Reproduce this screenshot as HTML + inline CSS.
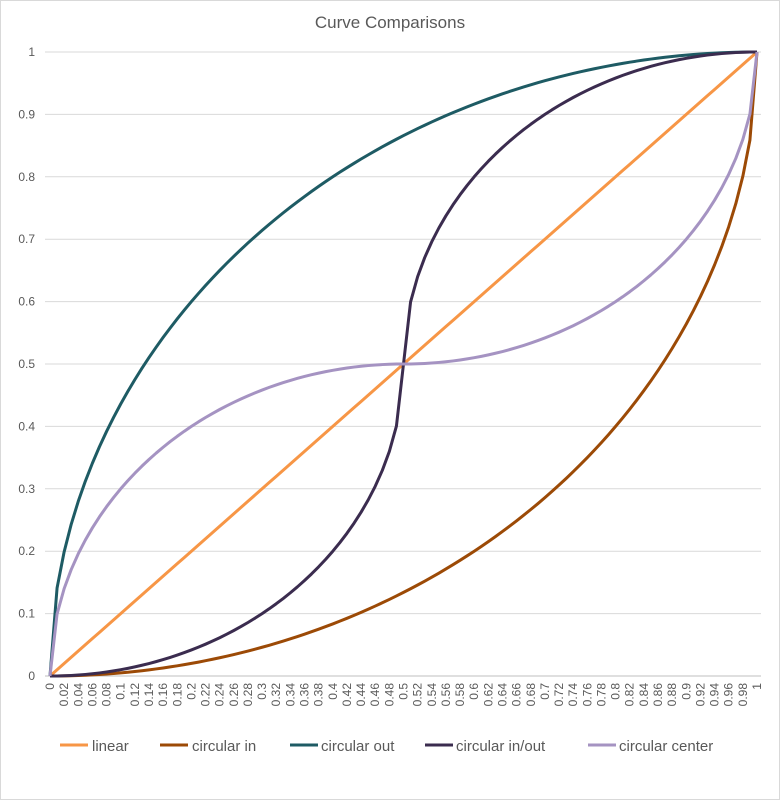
<!DOCTYPE html>
<html><head><meta charset="utf-8"><style>
body{margin:0;background:#fff}
svg{display:block;font-family:"Liberation Sans",sans-serif}
</style></head><body>
<svg id="c" width="780" height="800" xmlns="http://www.w3.org/2000/svg">
<rect x="0.5" y="0.5" width="779" height="799" fill="#fff" stroke="#d9d9d9"/>
<text x="390" y="28" text-anchor="middle" font-size="17" fill="#595959">Curve Comparisons</text>
<g id="grid"></g><g id="lab" font-size="12" fill="#595959"></g><g id="ser" fill="none" stroke-width="3" stroke-linejoin="round"></g>
<g font-size="15" fill="#595959">
<line x1="60" y1="745" x2="88" y2="745" stroke="#F79646" stroke-width="3"/><text x="92" y="751">linear</text>
<line x1="160" y1="745" x2="188" y2="745" stroke="#9C4A06" stroke-width="3"/><text x="192" y="751">circular in</text>
<line x1="290" y1="745" x2="318" y2="745" stroke="#1E5B64" stroke-width="3"/><text x="321" y="751">circular out</text>
<line x1="425" y1="745" x2="453" y2="745" stroke="#3B2C4F" stroke-width="3"/><text x="456" y="751">circular in/out</text>
<line x1="588" y1="745" x2="616" y2="745" stroke="#A593C2" stroke-width="3"/><text x="619" y="751">circular center</text>
</g>
</svg>
<script>
var X0=50,X1=757,Y0=676,Y1=52,ns="http://www.w3.org/2000/svg";
function px(x){return X0+(X1-X0)*x}function py(y){return Y0-(Y0-Y1)*y}
function el(p,t,a,txt){var e=document.createElementNS(ns,t);for(var k in a)e.setAttribute(k,a[k]);if(txt!=null)e.textContent=txt;document.getElementById(p).appendChild(e);}
for(var i=0;i<=10;i++){var y=py(i/10);el("grid","line",{x1:45,x2:761,y1:y,y2:y,stroke:i==0?"#bfbfbf":"#d9d9d9","stroke-width":1});
el("lab","text",{x:35,y:y+4,"text-anchor":"end"},i==0?"0":i==10?"1":(i/10).toString());}
for(var i=0;i<=50;i++){var x=px(i/50),v=i/50;var s=i==0?"0":i==50?"1":parseFloat(v.toFixed(2)).toString();
el("lab","text",{x:0,y:0,"text-anchor":"end",transform:"translate("+(x+4)+",683) rotate(-90)"},s);}
var f=[
["#F79646",function(x){return x}],
["#9C4A06",function(x){return 1-Math.sqrt(1-x*x)}],
["#1E5B64",function(x){return Math.sqrt(1-(1-x)*(1-x))}],
["#3B2C4F",function(x){return x<0.5?(1-Math.sqrt(Math.max(0,1-4*x*x)))/2:(Math.sqrt(Math.max(0,1-Math.pow(2-2*x,2)))+1)/2}],
["#A593C2",function(x){return x<=0.5?Math.sqrt(Math.max(0,1-Math.pow(1-2*x,2)))/2:0.5+(1-Math.sqrt(Math.max(0,1-Math.pow(2*x-1,2))))/2}]];
f.forEach(function(s){var d="";for(var i=0;i<=100;i++){var x=i/100;d+=(i?"L":"M")+px(x).toFixed(2)+","+py(s[1](x)).toFixed(2);}
el("ser","path",{d:d,stroke:s[0]});});
</script>
</body></html>
